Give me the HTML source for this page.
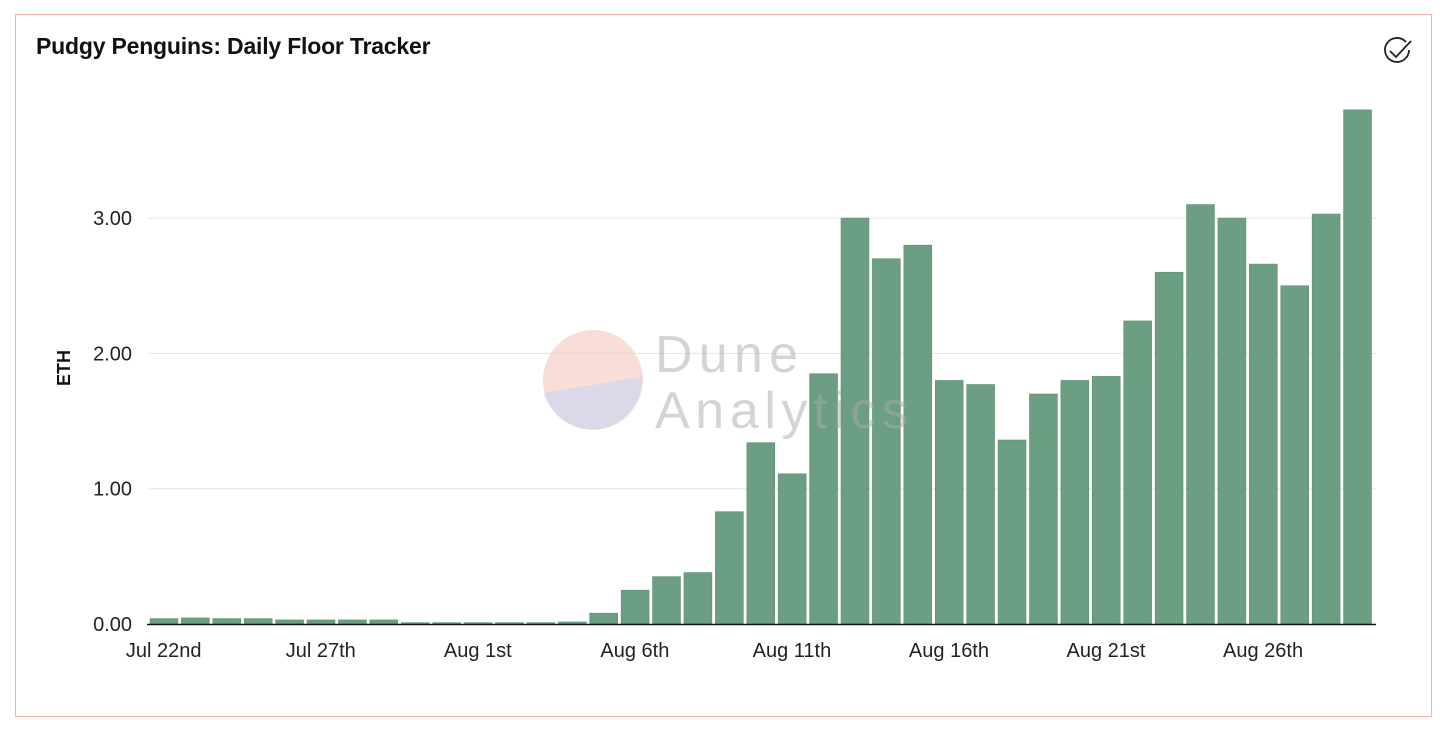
<!DOCTYPE html>
<html><head><meta charset="utf-8">
<style>
html,body{margin:0;padding:0;background:#fff;width:1456px;height:738px;overflow:hidden;font-family:"Liberation Sans",sans-serif;}
#card{position:absolute;left:15px;top:14px;width:1417px;height:703px;border:1.5px solid #f4b4a8;box-sizing:border-box;}
#title{position:absolute;left:36px;top:33px;font-size:23px;font-weight:bold;color:#111;letter-spacing:-0.2px;}
svg{position:absolute;left:0;top:0;}
</style></head><body>
<div id="card"></div>
<div id="title">Pudgy Penguins: Daily Floor Tracker</div>
<svg id="chart" width="1456" height="738">
  <g id="check">
    <path d="M1406,42 A12,12 0 1 0 1409,50" fill="none" stroke="#222" stroke-width="1.8"/>
    <path d="M1390,51 L1396,57 L1411,41" fill="none" stroke="#222" stroke-width="1.8"/>
  </g>
</svg>
<script>
const categories=["Jul 22nd","Jul 23rd","Jul 24th","Jul 25th","Jul 26th","Jul 27th","Jul 28th","Jul 29th","Jul 30th","Jul 31st","Aug 1st","Aug 2nd","Aug 3rd","Aug 4th","Aug 5th","Aug 6th","Aug 7th","Aug 8th","Aug 9th","Aug 10th","Aug 11th","Aug 12th","Aug 13th","Aug 14th","Aug 15th","Aug 16th","Aug 17th","Aug 18th","Aug 19th","Aug 20th","Aug 21st","Aug 22nd","Aug 23rd","Aug 24th","Aug 25th","Aug 26th","Aug 27th","Aug 28th","Aug 29th"];
const floorValues=[0.04,0.045,0.04,0.04,0.03,0.03,0.03,0.03,0.01,0.01,0.01,0.01,0.01,0.015,0.08,0.25,0.35,0.38,0.83,1.34,1.11,1.85,3.0,2.7,2.8,1.8,1.77,1.36,1.7,1.8,1.83,2.24,2.6,3.1,3.0,2.66,2.5,3.03,3.8];
const yTicks=[0,1,2,3];
const yTickLabels=["0.00","1.00","2.00","3.00"];
const xTickIdx=[0,5,10,15,20,25,30,35];
const NS="http://www.w3.org/2000/svg";
const svg=document.getElementById('chart');
const x0=148,x1=1373,y0=624,pxPerUnit=135.3;
const band=(x1-x0)/categories.length;
const xs=i=>x0+i*band;
const ys=v=>y0-v*pxPerUnit;
function mk(t,a){const e=document.createElementNS(NS,t);for(const k in a)e.setAttribute(k,a[k]);return e;}
yTicks.forEach((v,i)=>{
  if(v>0){const g=mk('line',{x1:x0,x2:1376,y1:ys(v),y2:ys(v),stroke:'#e6e6e6','stroke-width':1});
  
  
  svg.appendChild(g);}
  const t=mk('text',{x:132,y:ys(v)+7,'text-anchor':'end','font-size':20,fill:'#222'});
  t.textContent=yTickLabels[i];
  
  
  svg.appendChild(t);
});
floorValues.forEach((v,i)=>{
  const r=mk('rect',{x:xs(i)+2,y:ys(v),width:band-3.5,height:Math.max(v*pxPerUnit,1),fill:'#6b9e82',stroke:'#5d8f73','stroke-width':0.6});
  
  
  svg.appendChild(r);
});
const wm=mk('g',{opacity:0.5});


wm.innerHTML='<circle cx="593" cy="380" r="50" fill="#f3bfb0"/><path d="M544,393 L642,377 A50,50 0 0 1 544,393 Z" fill="#b5b5d6"/><text x="655" y="372" font-size="52" fill="#aaa" textLength="143">Dune</text><text x="655" y="428" font-size="52" fill="#aaa" textLength="253">Analytics</text>';
svg.appendChild(wm);
const ax=mk('line',{x1:x0-1,x2:1376,y1:y0+0.5,y2:y0+0.5,stroke:'#111','stroke-width':1.5});


svg.appendChild(ax);
xTickIdx.forEach(i=>{
  const t=mk('text',{x:xs(i)+band/2,y:657,'text-anchor':'middle','font-size':20,fill:'#222'});
  t.textContent=categories[i];
  
  
  svg.appendChild(t);
});
const yt=mk('text',{x:0,y:0,'font-size':18,'font-weight':'bold',fill:'#111','text-anchor':'middle',transform:'translate(70,368) rotate(-90)'});
yt.textContent='ETH';


svg.appendChild(yt);
</script>
</body></html>
